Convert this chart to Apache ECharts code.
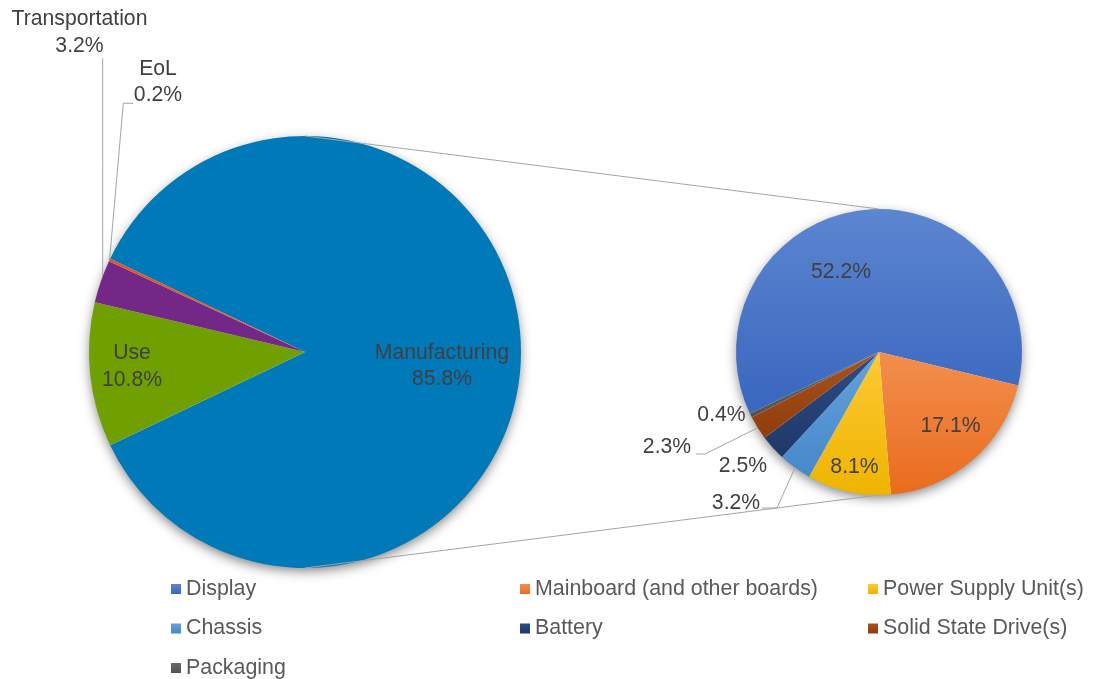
<!DOCTYPE html>
<html><head><meta charset="utf-8">
<script src="https://cdn.jsdelivr.net/npm/echarts@6/dist/echarts.min.js"></script>
<style>html,body{margin:0;padding:0;background:#fff}#chart{width:1096px;height:679px}</style>
</head><body><div id="chart"></div>
<script>
// ---------------- DATA ----------------
const leftCategories = ['Manufacturing', 'Use', 'Transportation', 'EoL'];
const leftValues = [85.8, 10.8, 3.2, 0.2];
const rightCategories = ['Display', 'Mainboard (and other boards)', 'Power Supply Unit(s)', 'Chassis', 'Battery', 'Solid State Drive(s)', 'Packaging'];
const rightValues = [52.2, 17.1, 8.1, 3.2, 2.5, 2.3, 0.4];
const legendColumns = [
  ['Display', 'Chassis', 'Packaging'],
  ['Mainboard (and other boards)', 'Battery'],
  ['Power Supply Unit(s)', 'Solid State Drive(s)']
];

// ---------------- STYLE / LAYOUT ----------------
const FONT = '"Liberation Sans", Arial, Helvetica, sans-serif';
const L = { cx: 305, cy: 352, r: 216 };
const R = { cx: 879, cy: 352, r: 143 };
const leftColors = ['#0079B8', '#6FA000', '#732887', '#E3521F'];
const rightColorPairs = [
  ['#5C86D0', '#3966BF'], ['#F38E4E', '#E96C1D'], ['#FFC933', '#EEB400'],
  ['#62A3DC', '#4688C9'], ['#2C4D86', '#1E3868'], ['#AA521B', '#8F3D0B'], ['#6B6B6B', '#525252']
];
const leftLabelPos = [[137, 14], [-173, 14.5], [-225.5, -319.5], [-147, -270]];
const leftLeaders = [null, null, { end: [-202.3, -293.7], vertical: true }, { end: [-171.7, -248.7], elbow: -10 }];
const rightLabelPos = [[-38, -79.5], [71.5, 74], [-24.5, 115.5], [-143, 151], [-136, 114], [-212, 95.5], [-157.5, 63]];
const rightLeaders = [null, null, null, { end: [-117, 156], elbow: 15 }, null, { end: [-183, 102], elbow: 9 }, null];
const legendLeft = [171, 520, 868];

function sum(a) { return a.reduce((s, v) => s + v, 0); }
const leftStart = leftValues[0] / sum(leftValues) * 180;
const rightStart = 205.5;

function midPoint(P, values, start, i) {
  const total = sum(values);
  let cum = 0; for (let k = 0; k < i; k++) cum += values[k];
  const ang = (start - (cum + values[i] / 2) / total * 360) * Math.PI / 180;
  return [P.cx + P.r * Math.cos(ang), P.cy - P.r * Math.sin(ang)];
}
function leaderPoints(P, values, start, i, ld) {
  const end = [P.cx + ld.end[0], P.cy + ld.end[1]];
  if (ld.vertical) {
    const dx = end[0] - P.cx;
    const a = [end[0], P.cy - Math.sqrt(P.r * P.r - dx * dx)];
    return [a, [end[0], (a[1] + end[1]) / 2], end];
  }
  const a = midPoint(P, values, start, i);
  return [a, [end[0] + ld.elbow, end[1]], end];
}
function makeLayout(P, values, start, posArr, leaders) {
  return function (p) {
    const i = p.dataIndex;
    const pos = posArr[i];
    const out = { x: P.cx + pos[0], y: P.cy + pos[1], align: 'center', verticalAlign: 'middle' };
    if (leaders[i]) out.labelLinePoints = leaderPoints(P, values, start, i, leaders[i]);
    return out;
  };
}
const labelBase = { color: '#404040', fontFamily: FONT, fontSize: 21.2, lineHeight: 26.5 };

const leftData = leftCategories.map((n, i) => ({
  name: n, value: leftValues[i],
  itemStyle: { color: leftColors[i] },
  label: { position: leftLeaders[i] ? 'outside' : 'inside' },
  labelLine: { show: !!leftLeaders[i] }
}));
const rightData = rightCategories.map((n, i) => ({
  name: n, value: rightValues[i],
  itemStyle: { color: { type: 'linear', x: 0, y: 0, x2: 0, y2: 1, colorStops: [{ offset: 0, color: rightColorPairs[i][0] }, { offset: 1, color: rightColorPairs[i][1] }] } },
  label: { position: rightLeaders[i] ? 'outside' : 'inside' },
  labelLine: { show: !!rightLeaders[i] }
}));

const chart = echarts.init(document.getElementById('chart'));
chart.setOption({
  backgroundColor: '#ffffff',
  animation: false,
  legend: legendColumns.map((names, c) => ({
    orient: 'vertical', left: legendLeft[c], top: 578.5, padding: 0, itemGap: 18.5,
    itemWidth: 10, itemHeight: 10, icon: 'rect', selectedMode: false, data: names,
    textStyle: { fontFamily: FONT, fontSize: 21.4, color: '#595959', lineHeight: 20 }
  })),
  graphic: [
    { type: 'circle', z: 0, silent: true, shape: { cx: L.cx, cy: L.cy, r: L.r - 1 }, style: { fill: '#ffffff', shadowBlur: 12, shadowOffsetY: 4, shadowColor: 'rgba(0,0,0,0.5)' } },
    { type: 'circle', z: 0, silent: true, shape: { cx: R.cx, cy: R.cy, r: R.r - 1 }, style: { fill: '#ffffff', shadowBlur: 12, shadowOffsetY: 4, shadowColor: 'rgba(0,0,0,0.5)' } },
    { type: 'line', z: 100, silent: true, shape: { x1: L.cx, y1: L.cy - L.r, x2: R.cx, y2: R.cy - R.r }, style: { stroke: '#A5A5A5', lineWidth: 1 } },
    { type: 'line', z: 100, silent: true, shape: { x1: L.cx, y1: L.cy + L.r, x2: R.cx, y2: R.cy + R.r }, style: { stroke: '#A5A5A5', lineWidth: 1 } }
  ],
  series: [
    {
      type: 'pie', center: [L.cx, L.cy], radius: [0, L.r], startAngle: leftStart, clockwise: true,
      avoidLabelOverlap: false, silent: true, emphasis: { disabled: true },
      itemStyle: { borderWidth: 0 },
      label: Object.assign({ show: true, formatter: '{b}\n{c}%' }, labelBase),
      labelLine: { show: false, lineStyle: { color: '#A5A5A5', width: 1 } },
      labelLayout: makeLayout(L, leftValues, leftStart, leftLabelPos, leftLeaders),
      data: leftData
    },
    {
      type: 'pie', center: [R.cx, R.cy], radius: [0, R.r], startAngle: rightStart, clockwise: true,
      avoidLabelOverlap: false, silent: true, emphasis: { disabled: true },
      itemStyle: { borderWidth: 0 },
      label: Object.assign({ show: true, formatter: '{c}%' }, labelBase),
      labelLine: { show: false, lineStyle: { color: '#A5A5A5', width: 1 } },
      labelLayout: makeLayout(R, rightValues, rightStart, rightLabelPos, rightLeaders),
      data: rightData
    }
  ]
});
</script></body></html>
